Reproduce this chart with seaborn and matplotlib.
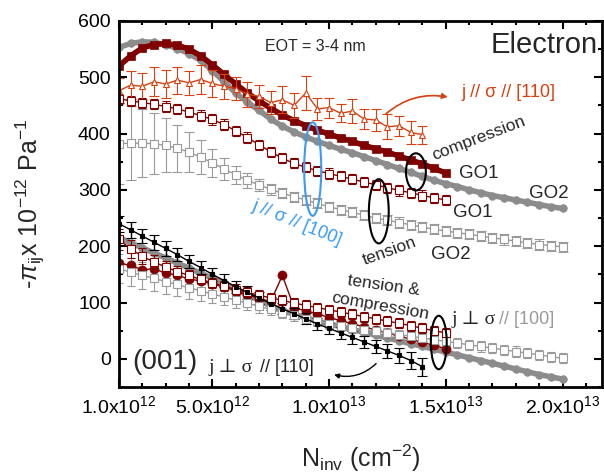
import numpy as np
import matplotlib.pyplot as plt
import seaborn as sns
from matplotlib.patches import Ellipse
from matplotlib.ticker import MultipleLocator

sns.set_theme(style='ticks')
plt.rcParams['font.family'] = ['Liberation Sans', 'DejaVu Sans']
plt.rcParams['mathtext.fontset'] = 'custom'
plt.rcParams['mathtext.rm'] = 'Liberation Sans'
plt.rcParams['mathtext.it'] = 'Liberation Sans:italic'
plt.rcParams['mathtext.bf'] = 'Liberation Sans:bold'

# N_inv in units of 1e12 cm^-2
n_15 = [1.0, 1.5, 2.0, 2.5, 3.0, 3.5, 4.0, 4.5, 5.0, 5.5, 6.0, 6.5, 7.0, 7.5, 8.0,
        8.5, 9.0, 9.5, 10.0, 10.5, 11.0, 11.5, 12.0, 12.5, 13.0, 13.5, 14.0, 14.5, 15.0]
n_20 = [1.0, 1.5, 2.0, 2.5, 3.0, 3.5, 4.0, 4.5, 5.0, 5.5, 6.0, 6.5, 7.0, 7.5, 8.0,
        8.5, 9.0, 9.5, 10.0, 10.5, 11.0, 11.5, 12.0, 12.5, 13.0, 13.5, 14.0, 14.5, 15.0,
        15.5, 16.0, 16.5, 17.0, 17.5, 18.0, 18.5, 19.0, 19.5, 20.0]
n_14 = [1.0, 1.5, 2.0, 2.5, 3.0, 3.5, 4.0, 4.5, 5.0, 5.5, 6.0, 6.5, 7.0, 7.5, 8.0,
        8.5, 9.0, 9.5, 10.0, 10.5, 11.0, 11.5, 12.0, 12.5, 13.0, 13.5, 14.0]

# j // sigma // [100]
go1_comp = [520, 538, 552, 558, 560, 557, 550, 538, 522, 505, 488, 472, 458, 445, 433,
            423, 414, 406, 399, 392, 386, 379, 373, 367, 360, 353, 346, 338, 330]
go2_comp = [553, 560, 563, 562, 558, 551, 542, 530, 512, 492, 472, 456, 441, 426, 413,
            403, 394, 386, 379, 372, 366, 359, 352, 345, 338, 331, 324, 317, 311,
            306, 300, 295, 290, 286, 282, 278, 274, 270, 267]
go1_tens = [462, 458, 455, 452, 448, 444, 438, 432, 425, 416, 405, 393, 380, 368, 356,
            347, 340, 334, 329, 324, 319, 314, 309, 304, 299, 295, 290, 286, 282]
go1_tens_err = [9, 9, 9, 9, 9, 9, 9, 9, 9, 9, 9, 9, 9, 9, 9,
                9, 9, 9, 9, 9, 9, 9, 9, 9, 9, 9, 9, 9, 9]
go2_tens = [382, 383, 383, 382, 379, 374, 367, 358, 348, 337, 327, 317, 309, 301, 294,
            288, 282, 276, 270, 265, 260, 255, 250, 246, 242, 238, 234, 230, 227,
            224, 221, 218, 215, 212, 209, 206, 203, 201, 199]
go2_tens_err = [72, 66, 60, 54, 48, 42, 36, 30, 25, 20, 16, 13, 11, 10, 9,
                9, 9, 9, 9, 9, 9, 9, 9, 9, 9, 9, 9, 9, 9,
                9, 9, 9, 9, 9, 9, 9, 9, 9, 9]

# j // sigma // [110]
par_110 = [476, 486, 484, 492, 488, 495, 490, 496, 489, 484, 480, 470, 466, 455, 460,
           450, 472, 444, 446, 436, 440, 426, 424, 412, 414, 402, 398]
par_110_err = [22, 25, 24, 26, 25, 24, 22, 26, 24, 22, 20, 22, 21, 20, 24,
               22, 30, 20, 18, 16, 22, 18, 20, 22, 18, 20, 16]

# j perp sigma
perp_110 = [240, 229, 218, 207, 196, 185, 173, 162, 150, 139, 128, 118, 108, 98, 89,
            80, 71, 62, 54, 46, 38, 30, 22, 14, 6, -3, -14]
perp_110_err = [14, 14, 13, 13, 13, 12, 12, 12, 12, 11, 11, 11, 11, 11, 10,
                10, 10, 10, 10, 10, 11, 11, 12, 13, 14, 15, 16]
perp_100_comp = [215, 206, 197, 188, 179, 170, 161, 152, 143, 134, 124, 114, 104, 94, 86,
                 79, 73, 67, 62, 57, 52, 47, 42, 37, 32, 27, 22, 17, 12,
                 7, 2, -3, -8, -13, -18, -23, -28, -32, -36]
perp_100_tens = [160, 154, 148, 143, 137, 132, 126, 121, 115, 110, 104, 99, 93, 88, 82,
                 77, 71, 67, 62, 58, 55, 52, 49, 46, 43, 40, 37, 34, 31,
                 28, 25, 22, 19, 16, 13, 10, 7, 4, 1]
perp_100_tens_err = [26, 25, 24, 23, 22, 21, 20, 18, 16, 14, 13, 12, 11, 10, 9,
                     9, 9, 9, 9, 9, 9, 9, 9, 9, 9, 9, 9, 9, 9,
                     9, 9, 9, 9, 9, 9, 9, 9, 9, 9]
perp_go1_tens = [212, 195, 182, 172, 163, 155, 148, 141, 135, 129, 123, 118, 113, 108, 104,
                 99, 95, 91, 87, 83, 79, 75, 71, 67, 63, 59, 54, 50, 46]
perp_go1_tens_err = [18, 16, 14, 12, 11, 10, 10, 9, 9, 9, 9, 9, 9, 9, 9,
                     9, 9, 9, 9, 9, 9, 9, 9, 9, 9, 9, 9, 9, 9]
perp_go1_comp = [170, 166, 158, 160, 152, 149, 141, 139, 132, 128, 120, 114, 107, 102, 148,
                 91, 85, 80, 73, 68, 62, 57, 51, 46, 40, 35, 29, 24, 18]

xtick_pos = [1, 5, 10, 15, 20]
xtick_lab = [r'1.0x10$^{12}$', r'5.0x10$^{12}$', r'1.0x10$^{13}$',
             r'1.5x10$^{13}$', r'2.0x10$^{13}$']

MAROON = '#800000'
GRAY = '#8c8c8c'
LGRAY = '#9a9a9a'
ORANGE = '#d8400f'
BLUE = '#3a9bf2'
SERIF = ['Liberation Serif', 'DejaVu Serif']

fig, ax = plt.subplots(figsize=(6.04, 4.76), dpi=100)
fig.subplots_adjust(left=0.197, right=0.997, bottom=0.187, top=0.956)


def band(x, y, color, marker, ms, lw):
    sns.lineplot(x=x, y=y, color=color, marker=marker, markersize=ms, lw=lw,
                 markeredgecolor=color, markeredgewidth=0.5, ax=ax)


def errs(x, y, e, color, marker, ms, cap=3, elw=0.8, mfc='white'):
    ax.errorbar(x, y, yerr=e, fmt='-' + marker, color=color, mfc=mfc, mec=color,
                ms=ms, mew=0.8, lw=1, ecolor=color, elinewidth=elw, capsize=cap, capthick=elw)


# lower group
errs(n_20, perp_100_tens, perp_100_tens_err, LGRAY, 's', 5.5)
band(n_20, perp_100_comp, GRAY, 'o', 5.5, 4)
band(n_15, perp_go1_comp, MAROON, 'o', 6.5, 1)
errs(n_15, perp_go1_tens, perp_go1_tens_err, MAROON, 's', 5.5)
errs(n_14, perp_110, perp_110_err, 'black', 's', 3.5, cap=3.5, elw=1, mfc='black')

# upper group
errs(n_20, go2_tens, go2_tens_err, LGRAY, 's', 5.5, cap=3.5)
errs(n_15, go1_tens, go1_tens_err, MAROON, 's', 5.5)
band(n_20, go2_comp, GRAY, 'o', 5.5, 4)
band(n_15, go1_comp, MAROON, 's', 5.5, 4)
errs(n_14, par_110, par_110_err, ORANGE, '^', 4.5, cap=3.5)

ax.set_xlim(1, 21.7)
ax.set_ylim(-50, 600)
ax.set_xticks(xtick_pos)
ax.set_xticklabels(xtick_lab)
ax.xaxis.set_minor_locator(MultipleLocator(1))
ax.set_yticks([0, 100, 200, 300, 400, 500, 600])
ax.yaxis.set_minor_locator(MultipleLocator(50))
ax.tick_params(which='both', direction='in', top=True, right=True, width=1.5, colors='black')
ax.tick_params(which='major', length=6, labelsize=14, pad=6)
ax.tick_params(which='minor', length=3)
for s in ax.spines.values():
    s.set_linewidth(2)
    s.set_color('black')

ax.set_xlabel(r'N$_{\rm inv}$ (cm$^{-2}$)', fontsize=18, labelpad=18)
ax.set_ylabel(r'-$\pi_{\rm ij}$x 10$^{-12}$ Pa$^{-1}$', fontsize=18, labelpad=22)

# annotations
ax.text(9.4, 555, 'EOT = 3-4 nm', fontsize=11.5, ha='center', va='center')
ax.text(19.2, 557, 'Electron', fontsize=21, ha='center', va='center')
ax.text(17.7, 473, 'j // σ // [110]', fontsize=13, color=ORANGE, ha='center', va='center')
ax.annotate('', xy=(15.2, 464), xytext=(12.35, 432),
            arrowprops=dict(arrowstyle='-|>', color=ORANGE, lw=1.2,
                            connectionstyle='arc3,rad=-0.25', mutation_scale=8))
ax.text(16.4, 391, 'compression', fontsize=12.5, rotation=21, ha='center', va='center')
ax.text(16.4, 329, 'GO1', fontsize=13.5, ha='center', va='center')
ax.text(19.4, 293, 'GO2', fontsize=13.5, ha='center', va='center')
ax.text(16.15, 259, 'GO1', fontsize=13.5, ha='center', va='center')
ax.text(15.2, 186, 'GO2', fontsize=13.5, ha='center', va='center')
ax.text(12.6, 191, 'tension', fontsize=12.5, rotation=20, ha='center', va='center')
ax.text(8.6, 242, 'j // σ // [100]', fontsize=13, color=BLUE, rotation=-22,
        ha='center', va='center')
ax.text(12.35, 130, 'tension &', fontsize=12.5, rotation=-8, ha='center', va='center')
ax.text(12.2, 93, 'compression', fontsize=12.5, rotation=-10, ha='center', va='center')
ax.text(15.25, 70, 'j ⊥ σ', fontsize=14, ha='left', va='center', family=SERIF)
ax.text(17.3, 70, '// [100]', fontsize=13, color=LGRAY, ha='left', va='center')
ax.text(2.95, -5, '(001)', fontsize=20, ha='center', va='center')
ax.text(4.85, -16, 'j ⊥ σ', fontsize=14, ha='left', va='center', color='#222222',
        family=SERIF)
ax.text(7.05, -16, '// [110]', fontsize=13, ha='left', va='center', color='#222222')
ax.annotate('', xy=(10.1, -27), xytext=(12.1, -5),
            arrowprops=dict(arrowstyle='-|>', color='black', lw=1,
                            connectionstyle='arc3,rad=-0.3', mutation_scale=7))

for (cx, cy, w, h, c) in [(13.72, 332, 0.85, 66, 'black'), (12.13, 262, 0.85, 114, 'black'),
                          (9.3, 337, 0.73, 166, BLUE), (14.7, 29, 0.68, 95, 'black')]:
    ax.add_patch(Ellipse((cx, cy), w, h, fill=False, ec=c, lw=1.5, zorder=5))

fig.savefig('out.png', dpi=100)
